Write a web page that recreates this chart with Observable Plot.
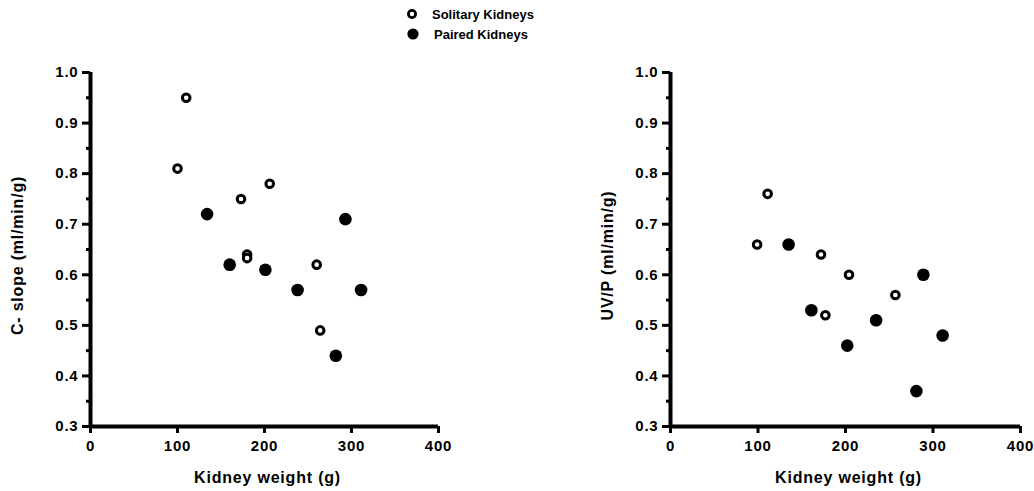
<!DOCTYPE html>
<html>
<head>
<meta charset="utf-8">
<script src="https://cdn.jsdelivr.net/npm/d3@7"></script>
<script src="https://cdn.jsdelivr.net/npm/@observablehq/plot@0.6"></script>
<style>
  html, body { margin: 0; padding: 0; background: #fff; }
  #wrap { position: relative; width: 1034px; height: 491px; overflow: hidden;
          font-family: "Liberation Sans", Arial, Helvetica, sans-serif; }
  .panel { position: absolute; top: 0; }
  .legend-item { position: absolute; display: flex; align-items: center;
                 font-weight: bold; font-size: 13px; color: #000; white-space: nowrap; }
</style>
</head>
<body>
<div id="wrap">
  <div id="left" class="panel" style="left:0"></div>
  <div id="right" class="panel" style="left:517px"></div>
  <div id="legend"></div>
</div>
<script>
// ---- Data ----
const legendLabels = ["Solitary Kidneys", "Paired Kidneys"];
const xTicks = [0, 100, 200, 300, 400];
const yTicks = [0.3, 0.4, 0.5, 0.6, 0.7, 0.8, 0.9, 1.0];
const yMinorTicks = [0.35, 0.45, 0.55, 0.65, 0.75, 0.85, 0.95];
const xLabel = "Kidney weight (g)";
const yLabelLeft = "C- slope (ml/min/g)";
const yLabelRight = "UV/P (ml/min/g)";

// Left panel: C- slope
const cSolitaryWeight = [100, 110, 173, 206, 180, 180, 260, 264];
const cSolitaryValue  = [0.81, 0.95, 0.75, 0.78, 0.64, 0.633, 0.62, 0.49];
const cPairedWeight   = [134, 293, 160, 201, 238, 311, 282];
const cPairedValue    = [0.72, 0.71, 0.62, 0.61, 0.57, 0.57, 0.44];

// Right panel: UV/P
const uSolitaryWeight = [99, 111, 172, 204, 257, 177];
const uSolitaryValue  = [0.66, 0.76, 0.64, 0.60, 0.56, 0.52];
const uPairedWeight   = [135, 161, 202, 235, 289, 311, 281];
const uPairedValue    = [0.66, 0.53, 0.46, 0.51, 0.60, 0.48, 0.37];

// ---- Build ----
const zip = (xs, ys) => xs.map((x, i) => ({x, y: ys[i]}));
const FONT = '"Liberation Sans", Arial, Helvetica, sans-serif';

function panel(solitary, paired, yLabel, opts) {
  return Plot.plot({
    width: 517,
    height: 491,
    marginLeft: opts.marginLeft,
    marginRight: opts.marginRight,
    marginTop: 72,
    marginBottom: 65,
    x: {domain: [0, 400]},
    y: {domain: [0.3, 1.0]},
    style: {fontFamily: FONT, color: "#000", background: "transparent", overflow: "visible"},
    marks: [
      Plot.axisX(xTicks, {tickSize: 7, tickPadding: 7, strokeWidth: 3, stroke: "black", fontSize: 15,
        fontWeight: "bold", label: null, tickFormat: d3.format("d")}),
      Plot.axisY(yTicks, {tickSize: 8, tickPadding: 4, strokeWidth: 3, stroke: "black", fontSize: 15,
        fontWeight: "bold", label: null, tickFormat: d3.format(".1f")}),
      Plot.axisY(yMinorTicks, {tickSize: 4, strokeWidth: 3, stroke: "black", label: null, tickFormat: () => ""}),
      Plot.ruleX([0], {y1: 0.3, y2: 1.0, strokeWidth: 4, stroke: "black"}),
      Plot.ruleY([0.3], {x1: 0, x2: 400, strokeWidth: 4, stroke: "black"}),
      Plot.text([xLabel], {frameAnchor: "bottom", lineAnchor: "middle", dy: 51, dx: 3,
        fontSize: 16, fontWeight: "bold", fill: "black"}),
      Plot.text([yLabel], {frameAnchor: "left", textAnchor: "middle", rotate: -90, lineAnchor: "middle",
        dx: opts.yLabelDx, dy: 6, fontSize: 16, fontWeight: "bold", fill: "black"}),
      Plot.dot(solitary, {x: "x", y: "y", r: 3.8, stroke: "black", strokeWidth: 3, fill: "white"}),
      Plot.dot(paired, {x: "x", y: "y", r: 6.3, fill: "black", stroke: "none"})
    ]
  });
}

const left = panel(zip(cSolitaryWeight, cSolitaryValue), zip(cPairedWeight, cPairedValue),
  yLabelLeft, {marginLeft: 90, marginRight: 79, yLabelDx: -73});
const right = panel(zip(uSolitaryWeight, uSolitaryValue), zip(uPairedWeight, uPairedValue),
  yLabelRight, {marginLeft: 153, marginRight: 14, yLabelDx: -63});

const titles = new Set([xLabel, yLabelLeft, yLabelRight]);
for (const svg of [left, right]) {
  svg.querySelectorAll("text").forEach(t => {
    const isTitle = titles.has(t.textContent);
    t.style.letterSpacing = isTitle ? "0.8px" : "0.8px";
    t.style.fontWeight = "bold";
    t.style.fontSize = isTitle ? "16px" : "15px";
  });
  svg.querySelectorAll('g[aria-label^="rule"] line').forEach(l => {
    l.style.strokeWidth = "4px";
    l.style.stroke = "black";
  });
  svg.querySelectorAll('g[aria-label$="tick"] path, g[aria-label$="tick"] line').forEach(l => {
    l.style.strokeWidth = "3px";
    l.style.stroke = "black";
  });
}
document.getElementById("left").appendChild(left);
document.getElementById("right").appendChild(right);

// Legend
const legend = document.getElementById("legend");
const legendPos = [{x: 406, y: 14, open: true}, {x: 406, y: 34, open: false}];
legendLabels.forEach((lab, i) => {
  const p = legendPos[i];
  const item = document.createElement("div");
  item.className = "legend-item";
  item.style.left = p.x + "px";
  item.style.top = (p.y - 9) + "px";
  item.style.height = "18px";
  const sym = p.open
    ? '<svg width="14" height="14" style="margin-right:12px"><circle cx="6" cy="7" r="3.6" fill="white" stroke="black" stroke-width="2.8"/></svg>'
    : '<svg width="14" height="14" style="margin-right:14px"><circle cx="7" cy="7" r="5.6" fill="black"/></svg>';
  item.innerHTML = sym + "<span>" + lab + "</span>";
  legend.appendChild(item);
});
</script>
</body>
</html>
